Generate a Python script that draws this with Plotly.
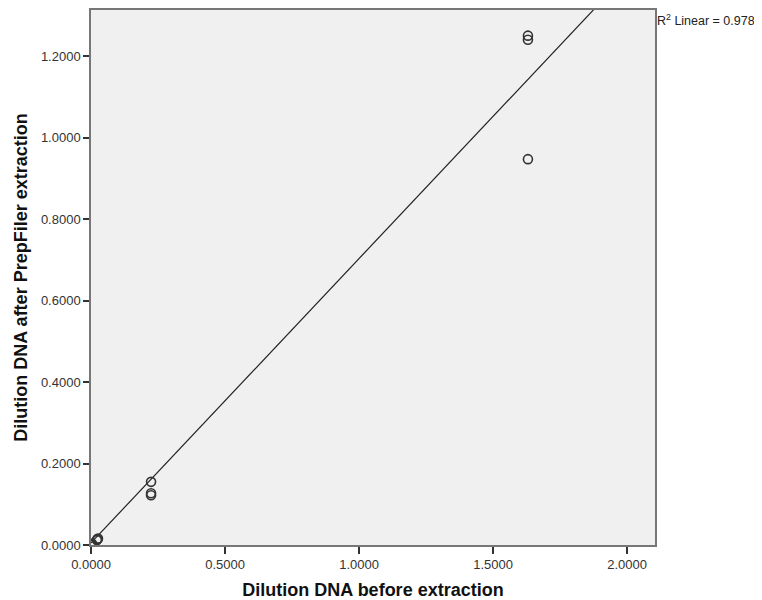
import plotly.graph_objects as go

# Data
x_before = [1.630, 1.630, 1.630, 0.224, 0.224, 0.224, 0.026, 0.024, 0.022, 0.004, 0.002]
y_after = [1.250, 1.240, 0.947, 0.155, 0.127, 0.122, 0.016, 0.014, 0.012, 0.003, 0.001]

# Linear fit as shown on chart
fit_intercept = 0.005
fit_slope = 0.698
r2_label = "R<sup>2</sup> Linear = 0.978"

x_range = [0, 2.104]
y_range = [0, 1.313]
x_ticks = [0, 0.5, 1.0, 1.5, 2.0]
y_ticks = [0, 0.2, 0.4, 0.6, 0.8, 1.0, 1.2]

fit_x = [x_range[0], x_range[1]]
fit_y = [fit_intercept + fit_slope * v for v in fit_x]

fig = go.Figure()
fig.add_trace(go.Scatter(
    x=fit_x, y=fit_y, mode="lines",
    line=dict(color="#222222", width=1.2), hoverinfo="skip", showlegend=False,
))
fig.add_trace(go.Scatter(
    x=x_before, y=y_after, mode="markers",
    marker=dict(symbol="circle-open", size=9, color="#333333", line=dict(width=1.6, color="#333333")),
    showlegend=False,
))

font_family = "Liberation Sans, Arial, sans-serif"
fig.update_layout(
    width=754, height=592,
    margin=dict(l=83, r=107, t=2, b=55),
    paper_bgcolor="white", plot_bgcolor="#f0f0f0",
    font=dict(family=font_family, size=13, color="#333333"),
    showlegend=False,
    xaxis=dict(
        range=x_range, tickvals=x_ticks, tickformat=".4f",
        showgrid=False, zeroline=False, automargin=False,
        showline=True, linecolor="#777777", linewidth=1.5, mirror=True,
        ticks="outside", ticklen=7, tickcolor="#333333", tickwidth=1.5,
        tickfont=dict(size=13, color="#333333"),
        title=dict(text="<b>Dilution DNA before extraction</b>", font=dict(size=18, color="#111111"), standoff=13),
    ),
    yaxis=dict(
        range=y_range, tickvals=y_ticks, tickformat=".4f",
        showgrid=False, zeroline=False, automargin=False,
        showline=True, linecolor="#777777", linewidth=1.5, mirror=True,
        ticks="outside", ticklen=6, tickcolor="#333333", tickwidth=1.5,
        tickfont=dict(size=13, color="#333333"),
        title=dict(text="<b>Dilution DNA after PrepFiler extraction</b>", font=dict(size=18, color="#111111"), standoff=9),
    ),
    annotations=[dict(
        text=r2_label, xref="paper", yref="paper", x=1, y=1,
        xanchor="left", yanchor="top", showarrow=False, xshift=0,
        font=dict(size=12.5, color="#222222"),
    )],
)

fig.write_html("out.html")
